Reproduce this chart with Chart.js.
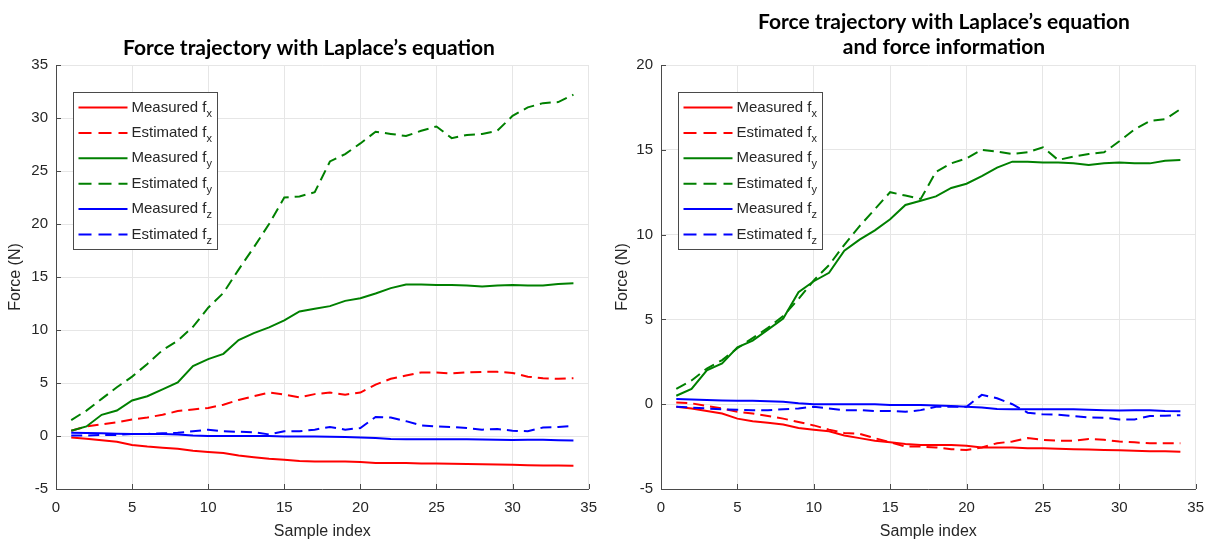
<!DOCTYPE html>
<html>
<head>
<meta charset="utf-8">
<script src="https://cdn.jsdelivr.net/npm/chart.js@4.4.1/dist/chart.umd.min.js"></script>
<style>
  html, body { margin: 0; padding: 0; background: #fff; }
  #wrap { position: relative; width: 1214px; height: 541px; }
  .box { position: absolute; top: 0; width: 607px; height: 541px; }
</style>
</head>
<body>
<div id="wrap">
  <div class="box" style="left:0"><canvas id="left"></canvas></div>
  <div class="box" style="left:607px"><canvas id="right"></canvas></div>
</div>
<script>
const samples = [1, 2, 3, 4, 5, 6, 7, 8, 9, 10, 11, 12, 13, 14, 15, 16, 17,
  18, 19, 20, 21, 22, 23, 24, 25, 26, 27, 28, 29, 30, 31, 32, 33, 34];

// measured forces (same in both panels)
const measuredFx = [-0.15, -0.25, -0.4, -0.55, -0.85, -1.0, -1.1, -1.2, -1.4, -1.5, -1.6, -1.85,
  -2.0, -2.15, -2.25, -2.35, -2.4, -2.4, -2.4, -2.45, -2.55, -2.55, -2.55, -2.6, -2.6, -2.62,
  -2.65, -2.67, -2.7, -2.72, -2.75, -2.78, -2.78, -2.8];
const measuredFy = [0.5, 0.9, 2.0, 2.4, 3.35, 3.75, 4.4, 5.05, 6.6, 7.25, 7.75, 9.05, 9.7, 10.25,
  10.9, 11.75, 12.0, 12.25, 12.75, 13.0, 13.45, 13.95, 14.3, 14.3, 14.25, 14.25, 14.2, 14.1,
  14.2, 14.25, 14.2, 14.2, 14.35, 14.4];
const measuredFz = [0.3, 0.28, 0.25, 0.22, 0.2, 0.2, 0.18, 0.15, 0.05, 0.0, 0.0, 0.0, 0.0, 0.0,
  -0.05, -0.05, -0.05, -0.08, -0.1, -0.15, -0.2, -0.28, -0.3, -0.3, -0.3, -0.3, -0.3, -0.32,
  -0.35, -0.37, -0.35, -0.35, -0.4, -0.42];

// estimated with Laplace's equation only
const laplaceFx = [0.5, 0.9, 1.1, 1.3, 1.55, 1.75, 2.0, 2.35, 2.5, 2.65, 2.95, 3.4, 3.75, 4.1,
  3.9, 3.65, 3.95, 4.1, 3.9, 4.1, 4.85, 5.4, 5.7, 6.0, 6.0, 5.9, 6.0, 6.05, 6.05, 5.95, 5.6,
  5.45, 5.4, 5.45];
const laplaceFy = [1.5, 2.4, 3.5, 4.6, 5.6, 6.8, 8.1, 9.0, 10.3, 12.1, 13.5, 15.7, 17.8, 20.0,
  22.5, 22.6, 23.0, 25.9, 26.6, 27.6, 28.7, 28.5, 28.3, 28.8, 29.2, 28.1, 28.4, 28.5, 28.8,
  30.2, 31.0, 31.4, 31.5, 32.2];
const laplaceFz = [0.05, 0.05, 0.1, 0.1, 0.2, 0.2, 0.25, 0.3, 0.45, 0.6, 0.45, 0.4, 0.35, 0.15,
  0.45, 0.45, 0.6, 0.85, 0.6, 0.75, 1.8, 1.75, 1.4, 1.0, 0.9, 0.85, 0.75, 0.6, 0.65, 0.5,
  0.45, 0.8, 0.85, 0.95];

// estimated with Laplace's equation and force information
const forceInfoFx = [0.1, 0.05, -0.1, -0.25, -0.45, -0.55, -0.7, -0.85, -1.05, -1.25, -1.5,
  -1.7, -1.75, -2.0, -2.25, -2.5, -2.5, -2.55, -2.65, -2.7, -2.55, -2.3, -2.2, -2.0, -2.1,
  -2.15, -2.15, -2.05, -2.1, -2.2, -2.25, -2.3, -2.3, -2.3];
const forceInfoFy = [0.9, 1.4, 2.1, 2.6, 3.3, 3.9, 4.5, 5.2, 6.2, 7.3, 8.2, 9.4, 10.5, 11.5,
  12.5, 12.3, 12.1, 13.7, 14.2, 14.5, 15.0, 14.9, 14.75, 14.85, 15.15, 14.4, 14.6, 14.75,
  14.85, 15.5, 16.2, 16.7, 16.8, 17.4];
const forceInfoFz = [-0.15, -0.2, -0.25, -0.3, -0.33, -0.35, -0.35, -0.3, -0.25, -0.15, -0.25,
  -0.35, -0.35, -0.4, -0.4, -0.45, -0.35, -0.15, -0.15, -0.15, 0.55, 0.35, 0.0, -0.5, -0.6,
  -0.62, -0.7, -0.78, -0.8, -0.9, -0.9, -0.7, -0.68, -0.65];

const legendNames = ['Measured', 'Estimated', 'Measured', 'Estimated', 'Measured', 'Estimated'];
const legendSubs = ['x', 'x', 'y', 'y', 'z', 'z'];
const seriesColors = ['#ff0000', '#ff0000', '#008000', '#008000', '#0000ff', '#0000ff'];
const xTicks = [0, 5, 10, 15, 20, 25, 30, 35];

const TEXT = '#262626';
const AXIS = '#4a4a4a';
const GRID = '#e6e6e6';

const toPoints = (values) => values.map((v, i) => ({ x: samples[i], y: v }));

const makeDatasets = (series) =>
  series.map((values, i) => ({
    label: legendNames[i] + ' f' + legendSubs[i],
    data: toPoints(values),
    borderColor: seriesColors[i],
    backgroundColor: seriesColors[i],
    borderWidth: 2,
    borderDash: i % 2 ? [11, 6] : [],
    pointRadius: 0,
    tension: 0,
    fill: false,
    order: series.length - i,
  }));

// title drawn centred at a given x (MATLAB style)
const plotTitle = {
  id: 'plotTitle',
  afterDraw(chart, args, opts) {
    const { ctx } = chart;
    ctx.save();
    ctx.fillStyle = '#000';
    ctx.font = 'bold 21px Lato';
    ctx.textAlign = 'center';
    ctx.textBaseline = 'alphabetic';
    opts.lines.forEach((line, i) => ctx.fillText(line, opts.x, opts.y[i]));
    ctx.restore();
  },
};

// inward tick marks on left and bottom axes
const innerTicks = {
  id: 'innerTicks',
  afterDatasetsDraw(chart) {
    const { ctx, chartArea: { left, bottom }, scales: { x, y } } = chart;
    ctx.save();
    ctx.strokeStyle = AXIS;
    ctx.lineWidth = 1;
    ctx.beginPath();
    x.ticks.forEach((t) => {
      const px = Math.round(x.getPixelForValue(t.value)) + 0.5;
      ctx.moveTo(px, bottom);
      ctx.lineTo(px, bottom - 5);
    });
    y.ticks.forEach((t) => {
      const py = Math.round(y.getPixelForValue(t.value)) + 0.5;
      ctx.moveTo(left, py);
      ctx.lineTo(left + 5, py);
    });
    ctx.stroke();
    ctx.restore();
  },
};

// boxed legend with subscripts
const boxLegend = {
  id: 'boxLegend',
  afterDatasetsDraw(chart, args, opts) {
    const { ctx, chartArea } = chart;
    const bx = Math.round(chartArea.left + 17) + 0.5;
    const by = Math.round(chartArea.top + 27) + 0.5;
    const bw = opts.width;
    const bh = 157;
    ctx.save();
    ctx.fillStyle = '#fff';
    ctx.fillRect(bx, by, bw, bh);
    ctx.strokeStyle = AXIS;
    ctx.lineWidth = 1;
    ctx.strokeRect(bx, by, bw, bh);
    chart.data.datasets.forEach((ds, i) => {
      const ly = by + 15 + 25.4 * i;
      ctx.strokeStyle = ds.borderColor;
      ctx.lineWidth = 2;
      ctx.setLineDash(ds.borderDash.length ? [13, 7] : []);
      ctx.beginPath();
      ctx.moveTo(bx + 5, ly);
      ctx.lineTo(bx + 54, ly);
      ctx.stroke();
      ctx.setLineDash([]);
      ctx.fillStyle = TEXT;
      ctx.textBaseline = 'middle';
      ctx.textAlign = 'left';
      ctx.font = '15px "Liberation Sans"';
      const base = legendNames[i] + ' f';
      ctx.fillText(base, bx + 58, ly);
      const w = ctx.measureText(base).width;
      ctx.font = '11px "Liberation Sans"';
      ctx.fillText(legendSubs[i], bx + 58 + w, ly + 6);
    });
    ctx.restore();
  },
};

const makeOptions = (yMin, yMax, yWidth, padRight, title) => ({
  responsive: true,
  maintainAspectRatio: false,
  animation: false,
  layout: { padding: { top: 65, right: padRight, bottom: 0, left: 0 } },
  plugins: {
    legend: { display: false },
    tooltip: { enabled: false },
    plotTitle: title,
    boxLegend: { width: 144 },
  },
  scales: {
    x: {
      type: 'linear',
      min: 0,
      max: 35,
      afterBuildTicks: (scale) => {
        scale.ticks = xTicks.map((v) => ({ value: v }));
      },
      afterFit: (scale) => {
        scale.height = 52;
      },
      grid: { color: GRID, drawTicks: false },
      border: { color: AXIS, width: 1 },
      ticks: { color: TEXT, font: { family: 'Liberation Sans', size: 15 }, padding: 10, maxRotation: 0 },
      title: {
        display: true,
        text: 'Sample index',
        color: TEXT,
        font: { family: 'Liberation Sans', size: 16 },
        padding: { top: 0, bottom: 0 },
      },
    },
    y: {
      type: 'linear',
      min: yMin,
      max: yMax,
      ticks: { stepSize: 5, color: TEXT, font: { family: 'Liberation Sans', size: 15 }, padding: 8 },
      afterFit: (scale) => {
        scale.width = yWidth;
      },
      grid: { color: GRID, drawTicks: false },
      border: { color: AXIS, width: 1 },
      title: {
        display: true,
        text: 'Force (N)',
        color: TEXT,
        font: { family: 'Liberation Sans', size: 16 },
        padding: { top: 6, bottom: 0 },
      },
    },
  },
});

new Chart(document.getElementById('left'), {
  type: 'line',
  data: { datasets: makeDatasets([measuredFx, laplaceFx, measuredFy, laplaceFy, measuredFz, laplaceFz]) },
  options: makeOptions(-5, 35, 56, 16, {
    lines: ['Force trajectory with Laplace\u2019s equation'],
    x: 309,
    y: [55],
  }),
  plugins: [innerTicks, boxLegend, plotTitle],
});

new Chart(document.getElementById('right'), {
  type: 'line',
  data: { datasets: makeDatasets([measuredFx, forceInfoFx, measuredFy, forceInfoFy, measuredFz, forceInfoFz]) },
  options: makeOptions(-5, 20, 54, 18, {
    lines: ['Force trajectory with Laplace\u2019s equation', 'and force information'],
    x: 337,
    y: [29, 54],
  }),
  plugins: [innerTicks, boxLegend, plotTitle],
});
</script>
</body>
</html>
